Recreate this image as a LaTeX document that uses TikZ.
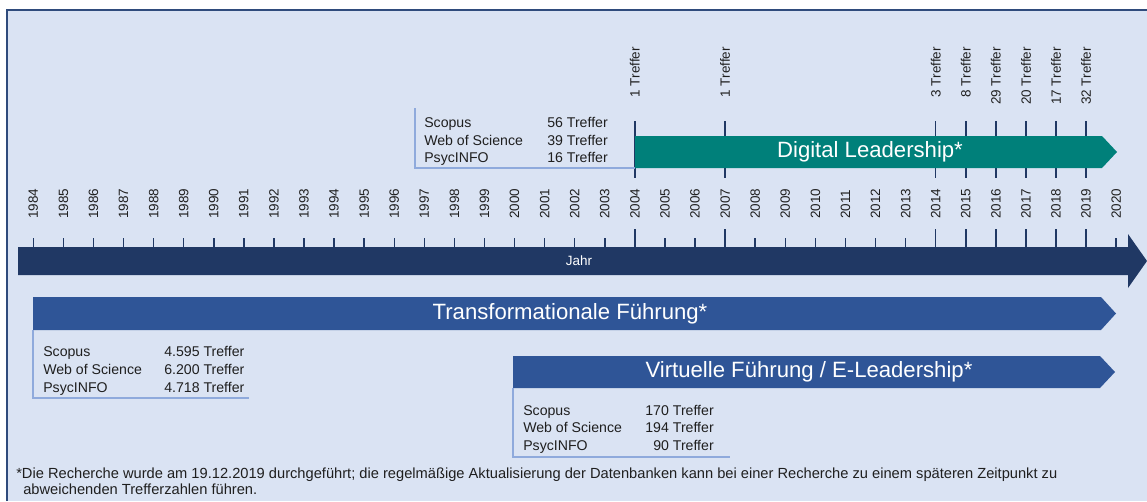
\documentclass[tikz,border=0pt]{standalone}
\usepackage{fontspec}
\setmainfont{Liberation Sans}
\definecolor{bg}{HTML}{DAE3F3}
\definecolor{navy}{HTML}{203864}
\definecolor{midblue}{HTML}{2F5597}
\definecolor{tealbar}{HTML}{00807A}
\definecolor{boxline}{HTML}{8FAADC}
\definecolor{framec}{HTML}{2F4B7C}
\definecolor{txt}{HTML}{1F1F1F}
\begin{document}
\begin{tikzpicture}[x=0.75pt,y=-0.75pt,
  yearlbl/.style={rotate=90,anchor=west,inner sep=0pt,text=txt,font=\fontsize{10.1}{12}\selectfont},
  hitlbl/.style={rotate=90,anchor=east,inner sep=0pt,text=txt,font=\fontsize{10.1}{12}\selectfont},
  tickline/.style={draw=navy,line width=1.1pt},
  boxtxt/.style={anchor=base west,inner sep=0pt,text=txt,font=\fontsize{10.6}{12}\selectfont},
  boxnum/.style={anchor=base east,inner sep=0pt,text=txt,font=\fontsize{10.6}{12}\selectfont},
  bigtxt/.style={text=white,inner sep=0pt,font=\fontsize{16.6}{19}\selectfont},
  boxedge/.style={draw=boxline,line width=0.8pt},
  foot/.style={anchor=base west,inner sep=0pt,text=txt,font=\fontsize{11}{13}\selectfont}]
\useasboundingbox (0,0) rectangle (1147,501);
\fill[bg] (7,10) rectangle (1147,501);
\draw[framec,line width=1.2pt] (7,501) -- (7,10) -- (1147,10);

% normal ticks and year labels
\foreach \i in {0,...,36}{
  \pgfmathsetmacro\xx{33.3+\i*30.08}
  \pgfmathtruncatemacro\yr{1984+\i}
  \coordinate (t\yr a) at (\xx,238);
  \coordinate (t\yr b) at (\xx,247);
  \draw[tickline] (t\yr a) -- (t\yr b);
  \node[yearlbl] (y\yr) at (\xx,219) {\yr};
}
% highlighted years
\foreach \yr/\n in {2004/1,2007/1,2014/3,2015/8,2016/29,2017/20,2018/17,2019/32}{
  \pgfmathsetmacro\xx{33.3+(\yr-1984)*30.08}
  \coordinate (h\yr a) at (\xx,229);
  \coordinate (h\yr c) at (\xx,121);
  \coordinate (h\yr d) at (\xx,178);
  \draw[tickline] (h\yr a) -- (t\yr b);
  \draw[tickline] (h\yr c) -- (h\yr d);
  \node[hitlbl] (n\yr) at (\xx,47) {\n\ Treffer};
}

% timeline arrow
\fill[navy] (18,247) -- (1128,247) -- (1128,234) -- (1147,261) -- (1128,288) -- (1128,275) -- (18,275) -- cycle;
\node[text=white,inner sep=0pt,font=\fontsize{10.1}{12}\selectfont] (jahr) at (579,261) {Jahr};

% digital leadership
\fill[tealbar] (635,136) -- (1102,136) -- (1117,152) -- (1102,168) -- (635,168) -- cycle;
\node[bigtxt] (dl) at (870,152) {Digital Leadership*};
\coordinate (dbA) at (415,108);
\coordinate (dbB) at (415,168);
\coordinate (dbC) at (635,168);
\draw[boxedge] (dbA) -- (dbB) -- (dbC);
\node[boxtxt] (ds1) at (424,127) {Scopus};
\node[boxtxt] (ds2) at (424,145) {Web of Science};
\node[boxtxt] (ds3) at (424,162) {PsycINFO};
\node[boxtxt] (dn1) at (547,127) {56 Treffer};
\node[boxtxt] (dn2) at (547,145) {39 Treffer};
\node[boxtxt] (dn3) at (547,162) {16 Treffer};

% transformational
\fill[midblue] (33,297) -- (1101,297) -- (1116,313.5) -- (1101,330) -- (33,330) -- cycle;
\node[bigtxt] (tf) at (570,313.5) {Transformationale Führung*};
\coordinate (tbA) at (33,330);
\coordinate (tbB) at (33,398);
\coordinate (tbC) at (249,398);
\draw[boxedge] (tbA) -- (tbB) -- (tbC);
\node[boxtxt] (ts1) at (43,356) {Scopus};
\node[boxtxt] (ts2) at (43,374) {Web of Science};
\node[boxtxt] (ts3) at (43,392) {PsycINFO};
\node[boxtxt] (tn1) at (164,356) {4.595 Treffer};
\node[boxtxt] (tn2) at (164,374) {6.200 Treffer};
\node[boxtxt] (tn3) at (164,392) {4.718 Treffer};

% virtual
\fill[midblue] (513,356) -- (1100,356) -- (1115,372) -- (1100,388) -- (513,388) -- cycle;
\node[bigtxt] (vf) at (809,372) {Virtuelle Führung / E-Leadership*};
\coordinate (vbA) at (513,388);
\coordinate (vbB) at (513,457);
\coordinate (vbC) at (730,457);
\draw[boxedge] (vbA) -- (vbB) -- (vbC);
\node[boxtxt] (vs1) at (523,415) {Scopus};
\node[boxtxt] (vs2) at (523,432) {Web of Science};
\node[boxtxt] (vs3) at (523,450) {PsycINFO};
\node[boxnum] (vn1) at (714,415) {170 Treffer};
\node[boxnum] (vn2) at (714,432) {194 Treffer};
\node[boxnum] (vn3) at (714,450) {90 Treffer};

% footnote
\node[foot] (f1) at (16,478) {*Die Recherche wurde am 19.12.2019 durchgeführt; die regelmäßige Aktualisierung der Datenbanken kann bei einer Recherche zu einem späteren Zeitpunkt zu};
\node[foot] (f2) at (23,494) {abweichenden Trefferzahlen führen.};
\end{tikzpicture}
\end{document}
